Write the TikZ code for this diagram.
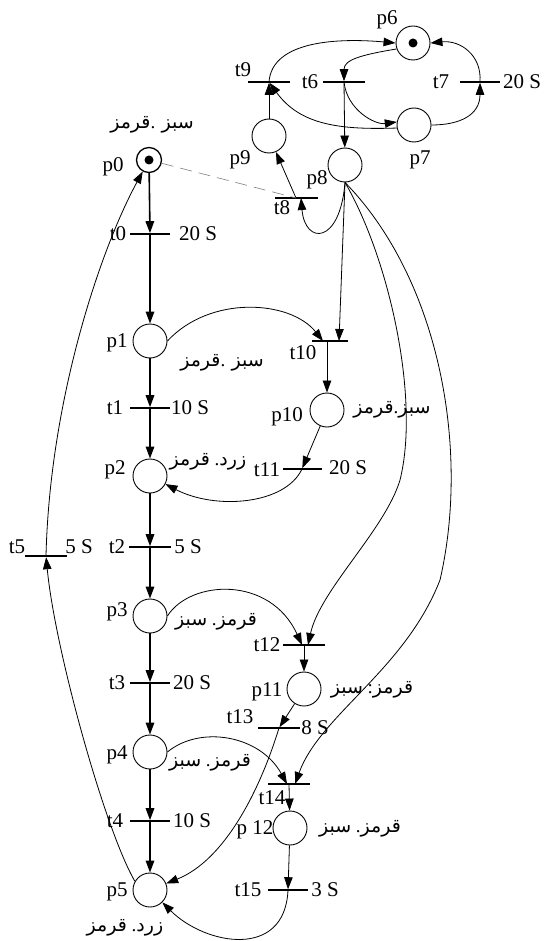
\documentclass[tikz,border=0pt]{standalone}
\usepackage{fontspec}
\setmainfont{Liberation Serif}
\newfontfamily\arabicfont[Script=Arabic]{DejaVu Sans}
\TeXXeTstate=1
\usetikzlibrary{arrows.meta}
\newcommand{\arw}[1]{{\arabicfont\beginR #1\endR}}
\begin{document}
\begin{tikzpicture}[x=1pt,y=-1pt,
  place/.style={circle,draw,line width=0.9pt,minimum size=34pt,inner sep=0pt},
  trans/.style={rectangle,fill=black,minimum width=40pt,minimum height=1.6pt,inner sep=0pt,outer sep=0pt},
  lab/.style={inner sep=0pt,font=\fontsize{21}{24}\selectfont},
  alab/.style={inner sep=0pt,font=\fontsize{19}{22}\selectfont},
  arc/.style={line width=0.8pt,-{Triangle[length=12pt,width=8.5pt]}},
  mainarc/.style={line width=1.6pt,-{Triangle[length=12pt,width=8.5pt]}},
  token/.style={circle,fill=black,inner sep=0pt,minimum size=9pt}]
\fill[white] (0,0) rectangle (543,941);
\useasboundingbox (0,0) rectangle (543,941);
% places
\node[place,minimum size=25pt,line width=1.3pt] (p0) at (149,160) {};
\node[place] (p1) at (150,341) {};
\node[place] (p2) at (150,476) {};
\node[place] (p3) at (150,616) {};
\node[place] (p4) at (150,752) {};
\node[place] (p5) at (150,890) {};
\node[place] (p6) at (413,43) {};
\node[place] (p7) at (414,125) {};
\node[place] (p8) at (345,165) {};
\node[place] (p9) at (269,136) {};
\node[place] (p10) at (327,410) {};
\node[place] (p11) at (304,689) {};
\node[place] (p12) at (290,828) {};
\node[token] (k0) at (p0) {};
\node[token] (k6) at (p6) {};
% transitions
\node[trans] (t0) at (150,234) {};
\node[trans] (t1) at (150,408) {};
\node[trans,minimum width=42pt] (t2) at (150,547) {};
\node[trans] (t3) at (150,683) {};
\node[trans] (t4) at (150,821) {};
\node[trans,minimum width=42pt,minimum height=2.4pt] (t5) at (46,556) {};
\node[trans,minimum width=42pt] (t6) at (344,82) {};
\node[trans] (t7) at (480,82) {};
\node[trans,minimum width=43pt] (t8) at (296,198) {};
\node[trans,minimum width=42pt] (t9) at (269,82) {};
\node[trans,minimum width=36pt] (t10) at (330,341) {};
\node[trans,minimum width=39pt] (t11) at (302,469) {};
\node[trans,minimum width=42pt] (t12) at (304,645) {};
\node[trans,minimum width=42pt] (t13) at (279,728) {};
\node[trans,minimum width=42pt] (t14) at (289,784) {};
\node[trans] (t15) at (288,890) {};
% main chain
\draw[mainarc] (p0) -- (t0);
\draw[mainarc] (t0) -- (p1);
\draw[mainarc] (p1) -- (t1);
\draw[mainarc] (t1) -- (p2);
\draw[mainarc] (p2) -- (t2);
\draw[mainarc] (t2) -- (p3);
\draw[mainarc] (p3) -- (t3);
\draw[mainarc] (t3) -- (p4);
\draw[mainarc] (p4) -- (t4);
\draw[mainarc] (t4) -- (p5);
% return loop
\draw[arc] (p5.150) .. controls (105,830) and (55,650) .. (t5);
\draw[arc] (t5) .. controls (50,400) and (100,250) .. (p0);
% middle
\draw[arc] (p1.east) .. controls (210,295) and (290,300) .. ([xshift=-7pt]t10.center);
\draw[arc] (p8.south) -- ([xshift=9pt]t10.center);
\draw[arc] ([xshift=-3pt]t10.center) -- (p10);
\draw[arc] (p10) -- (t11);
\draw[arc] (t11.center) .. controls (285,505) and (215,510) .. (p2);
\draw[arc] (p8.south) .. controls (390,260) and (420,400) .. (400,480) .. controls (385,530) and (320,590) .. ([xshift=4pt]t12.center);
\draw[arc] (p8.south) .. controls (440,280) and (470,450) .. (440,580) .. controls (405,670) and (320,715) .. ([xshift=6pt]t14.center);
\draw[arc] (p3.east) .. controls (190,580) and (270,575) .. ([xshift=-2pt]t12.center);
\draw[arc] (t12) -- (p11);
\draw[arc] (p11) -- (t13);
\draw[arc] (t13.center) .. controls (260,790) and (225,860) .. (p5);
\draw[arc] (p4.east) .. controls (200,725) and (260,735) .. ([xshift=-2pt]t14.center);
\draw[arc] (t14) -- (p12);
\draw[arc] (p12) -- (t15);
\draw[arc] (t15.center) .. controls (285,960) and (205,945) .. (p5);
% top
\draw[arc] (p8.south) .. controls (340,245) and (305,245) .. ([xshift=5pt]t8.center);
\draw[arc] (t8.center) -- (p9);
\draw[line width=0.6pt,gray,dash pattern=on 12pt off 7pt] (p0) -- (t8.center);
\draw[arc] (p9) -- (t9);
\draw[arc] (t9.center) .. controls (272,40) and (340,38) .. (p6.west);
\draw[arc] (p6.200) .. controls (360,55) and (344,60) .. (t6);
\draw[arc] (t6.center) .. controls (347,110) and (375,125) .. (p7.170);
\draw[arc] (t6) -- (p8);
\draw[arc] (p7.190) .. controls (340,130) and (300,125) .. (t9);
\draw[arc] (p7.east) .. controls (460,125) and (480,115) .. (t7);
\draw[arc] (t7.center) .. controls (482,55) and (460,40) .. (p6.east);
% transition labels
\node[lab] (lt0) at (118,234) {t0}; \node[lab] (d0) at (198,234) {20 S};
\node[lab] (lt1) at (115,408) {t1}; \node[lab] (d1) at (190,408) {10 S};
\node[lab] (lt2) at (117,547) {t2}; \node[lab] (d2) at (188,547) {5 S};
\node[lab] (lt3) at (117,683) {t3}; \node[lab] (d3) at (192,683) {20 S};
\node[lab] (lt4) at (115,821) {t4}; \node[lab] (d4) at (192,821) {10 S};
\node[lab] (lt5) at (17,547) {t5}; \node[lab] (d5) at (79,547) {5 S};
\node[lab] (lt6) at (310,82) {t6};
\node[lab] (lt7) at (441,82) {t7}; \node[lab] (d7) at (522,82) {20 S};
\node[lab] (lt8) at (282,208) {t8};
\node[lab] (lt9) at (243,70) {t9};
\node[lab] (lt10) at (303,353) {t10};
\node[lab] (lt11) at (267,470) {t11}; \node[lab] (d11) at (348,468) {20 S};
\node[lab] (lt12) at (267,645) {t12};
\node[lab] (lt13) at (240,717) {t13}; \node[lab] (d13) at (315,728) {8 S};
\node[lab] (lt14) at (272,798) {t14};
\node[lab] (lt15) at (248,890) {t15}; \node[lab] (d15) at (325,890) {3 S};
% place labels
\node[lab] (lp0) at (113,167) {p0};
\node[lab] (lp1) at (117,343) {p1};
\node[lab] (lp2) at (115,470) {p2};
\node[lab] (lp3) at (117,612) {p3};
\node[lab] (lp4) at (117,755) {p4};
\node[lab] (lp5) at (117,892) {p5};
\node[lab] (lp6) at (387,20) {p6};
\node[lab] (lp7) at (420,160) {p7};
\node[lab] (lp8) at (317,180) {p8};
\node[lab] (lp9) at (240,160) {p9};
\node[lab] (lp10) at (287,417) {p10};
\node[lab] (lp11) at (267,692) {p11};
\node[lab] (lp12) at (255,830) {p 12};
% arabic labels
\node[alab] (a0) at (152,125) {\arw{قرمز}. \arw{سبز}};
\node[alab] (a1) at (222,363) {\arw{قرمز}. \arw{سبز}};
\node[alab] (a2) at (208,462) {\arw{قرمز} .\arw{زرد}};
\node[alab] (a3) at (216,622) {\arw{سبز} .\arw{قرمز}};
\node[alab] (a4) at (210,763) {\arw{سبز} .\arw{قرمز}};
\node[alab] (a5) at (125,928) {\arw{قرمز} .\arw{زرد}};
\node[alab] (a10) at (392,410) {\arw{قرمز}.\arw{سبز}};
\node[alab] (a11) at (372,690) {\arw{سبز} :\arw{قرمز}};
\node[alab] (a12) at (360,829) {\arw{سبز} .\arw{قرمز}};
\end{tikzpicture}
\end{document}
